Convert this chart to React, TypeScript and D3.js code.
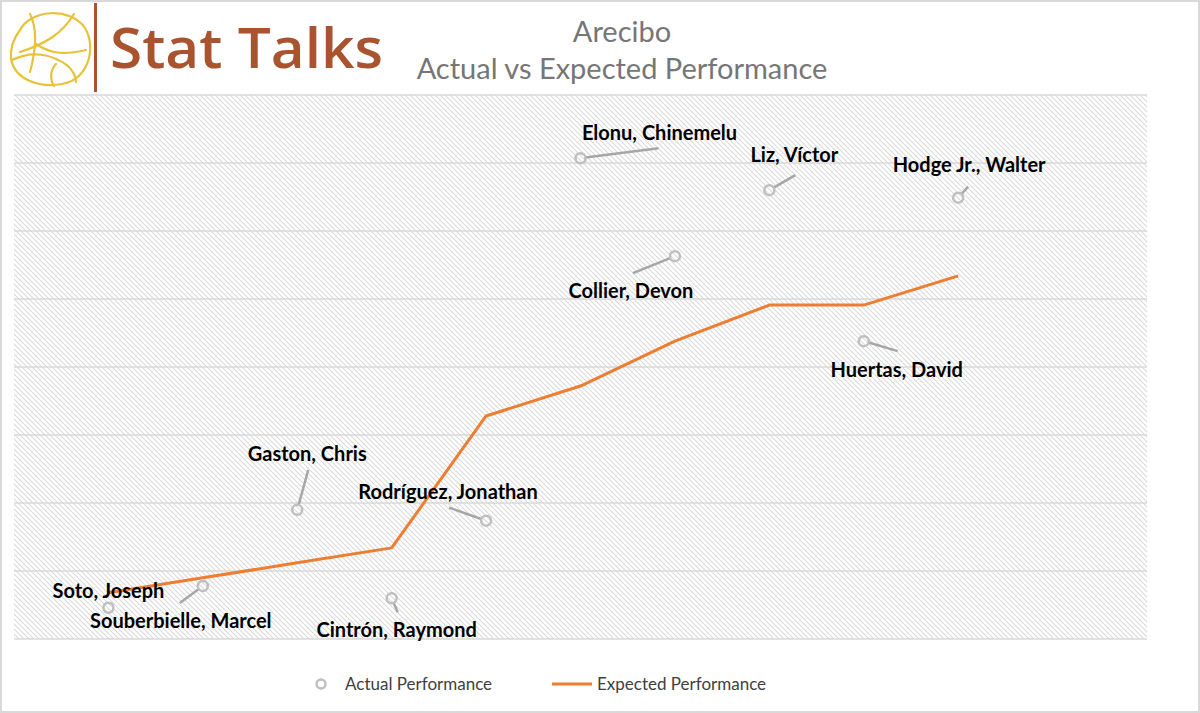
import React from "react";
import { scaleLinear, line, range } from "d3";

// players in chart order
const players = [
  "Soto, Joseph",
  "Souberbielle, Marcel",
  "Gaston, Chris",
  "Cintrón, Raymond",
  "Rodríguez, Jonathan",
  "Elonu, Chinemelu",
  "Collier, Devon",
  "Liz, Víctor",
  "Huertas, David",
  "Hodge Jr., Walter",
];
const actual = [0.46, 0.78, 1.9, 0.6, 1.74, 7.07, 5.63, 6.6, 4.38, 6.49];
const expected = [0.68, 0.9, 1.12, 1.34, 3.28, 3.72, 4.38, 4.91, 4.91, 5.34];

const titleLines = ["Arecibo", "Actual vs Expected Performance"];
const legendLabels = ["Actual Performance", "Expected Performance"];

// label placement (px offsets from the point): text anchor, leader end
const labelOffsets: [number, number][] = [
  [0, -11], [-22, 41], [10, -50], [5, 38], [-38, -23],
  [79, -19], [-44, 41], [25, -29], [33, 35], [11, -27],
];
const leaderEnds: ([number, number] | null)[] = [
  null, [-23, 17], [11, -40], [6, 14], [-37, -13],
  [78, -10], [-42, 17], [26, -15], [34, 10], [10, -11],
];

const W = 1200;
const H = 713;
const plot = { left: 14, right: 1147, top: 95, bottom: 639 };

const App = () => {
  const x = scaleLinear().domain([0, 12]).range([plot.left, plot.right]);
  const y = scaleLinear().domain([0, 8]).range([plot.bottom, plot.top]);

  const expLine = line<number>()
    .x((d, i) => x(i + 1))
    .y((d) => y(d));

  const brown = "#a9532f";
  const gold = "#e7c23b";
  const markerGray = "#bfbfbf";
  const font = "Lato, 'Open Sans', sans-serif";
  const r = 5;

  return (
    <svg
      width={W}
      height={H}
      style={{ position: "absolute", left: 0, top: 0 }}
      fontFamily={font}
    >
      <defs>
        <pattern id="hatch" patternUnits="userSpaceOnUse" width="5" height="5">
          <path d="M-1,-1 L6,6 M-1,4 L1,6 M4,-1 L6,1" stroke="#dadada" strokeWidth="1.1" />
        </pattern>
      </defs>
      <rect x={0} y={0} width={W} height={H} fill="#fff" />
      <rect x={1} y={1} width={W - 2} height={H - 2} fill="none" stroke="#d9d9d9" strokeWidth={2} />

      {/* logo */}
      <g fill="none" stroke={gold} strokeWidth={2.2} strokeLinecap="round">
        <path d="M20,30 C30,10 70,6 85,28 C97,48 88,80 62,84 C40,88 14,80 11,58 C10,46 14,38 20,30 Z" />
        <path d="M30,14 C38,30 36,50 30,72" />
        <path d="M74,14 C62,34 45,44 20,52" />
        <path d="M12,60 C32,50 52,54 68,66 C74,72 76,78 76,82" />
        <path d="M36,44 C48,52 60,56 86,50" />
        <path d="M56,64 C50,70 50,80 54,86" />
      </g>
      <rect x={94} y={3} width={3} height={89} fill={brown} />
      <text x={110} y={68} fontFamily="'Open Sans', sans-serif" fontWeight={600} fontSize={56} fill={brown} textLength={273} lengthAdjust="spacingAndGlyphs">
        Stat Talks
      </text>

      {/* title */}
      <text x={622} y={42} textAnchor="middle" fontSize={29} fill="#767676">{titleLines[0]}</text>
      <text x={622} y={79} textAnchor="middle" fontSize={29} fill="#767676">{titleLines[1]}</text>

      {/* plot background */}
      <rect x={plot.left} y={plot.top} width={plot.right - plot.left} height={plot.bottom - plot.top} fill="url(#hatch)" />
      {range(0, 9).map((t) => (
        <line key={t} x1={plot.left} x2={plot.right} y1={y(t)} y2={y(t)} stroke="#d9d9d9" strokeWidth={1.5} />
      ))}

      {/* expected */}
      <path d={expLine(expected) || ""} fill="none" stroke="#ed7d31" strokeWidth={3} strokeLinejoin="round" />

      {/* leaders */}
      {actual.map((v, i) => {
        const e = leaderEnds[i];
        if (!e) return null;
        const len = Math.hypot(e[0], e[1]);
        const px = x(i + 1);
        const py = y(v);
        return (
          <line key={"l" + i}
            x1={px + (e[0] / len) * r} y1={py + (e[1] / len) * r}
            x2={px + e[0]} y2={py + e[1]}
            stroke="#a6a6a6" strokeWidth={2.5} />
        );
      })}

      {/* actual markers */}
      {actual.map((v, i) => (
        <circle key={"c" + i} cx={x(i + 1)} cy={y(v)} r={r} fill="none" stroke={markerGray} strokeWidth={2.5} />
      ))}

      {/* labels */}
      {actual.map((v, i) => (
        <text key={"t" + i} x={x(i + 1) + labelOffsets[i][0]} y={y(v) + labelOffsets[i][1] + 1}
          textAnchor="middle" fontWeight={700} fontSize={20} fill="#000">
          {players[i]}
        </text>
      ))}

      {/* legend */}
      <circle cx={321} cy={684} r={4.5} fill="none" stroke={markerGray} strokeWidth={2.5} />
      <text x={345} y={690} fontSize={17} fill="#404040">{legendLabels[0]}</text>
      <line x1={552} x2={592} y1={684} y2={684} stroke="#ed7d31" strokeWidth={3} />
      <text x={597} y={690} fontSize={17} fill="#404040">{legendLabels[1]}</text>
    </svg>
  );
};

export default App;
